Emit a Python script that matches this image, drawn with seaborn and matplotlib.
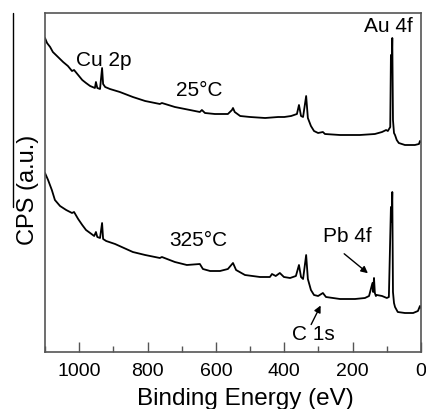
import numpy as np
import pandas as pd
import matplotlib
matplotlib.use("Agg")
import matplotlib.pyplot as plt
from matplotlib.lines import Line2D
from matplotlib.ticker import MultipleLocator
import seaborn as sns

# XPS survey spectra (binding energy in eV, intensity in a.u.)
be_25 = [1100, 1094, 1085, 1077, 1062, 1047, 1033, 1021, 1015, 1003, 991, 980, 968,
         954, 951, 947, 939, 933, 930, 924, 910, 881, 843, 807, 764, 758, 720, 676,
         647, 641, 632, 603, 565, 553, 550, 545, 529, 500, 456, 418, 400, 380, 363,
         357, 351, 345, 336, 331, 322, 313, 301, 287, 281, 237, 179, 135, 114, 102,
         97, 90, 88, 86, 84, 82, 79, 76, 71, 65, 47, 18, 6, 3, 0]
cps_25 = [314, 309, 305, 300, 295, 290, 286, 281, 282, 277, 272, 269, 266,
          264, 270, 264, 263, 284, 268, 265, 263, 260, 255, 251, 248, 249, 245, 242,
          240, 242, 239, 238, 238, 242, 244, 240, 236, 235, 234, 235, 235, 236, 238,
          247, 236, 235, 256, 234, 226, 221, 219, 220, 218, 217, 217, 218, 220, 222,
          221, 225, 297, 280, 314, 232, 219, 217, 212, 209, 207, 207, 208, 211, 210]

be_325 = [1100, 1091, 1080, 1071, 1056, 1038, 1021, 1015, 1003, 991, 980, 968, 956,
          951, 947, 939, 933, 930, 921, 895, 843, 807, 764, 758, 720, 685, 647, 638,
          617, 588, 565, 550, 541, 515, 471, 442, 436, 425, 413, 401, 383, 366, 357,
          351, 345, 336, 331, 322, 313, 301, 287, 278, 237, 193, 164, 152, 142, 140,
          137.5, 135, 132, 129, 114, 100, 94, 88, 86, 84, 82, 79, 76, 68, 47, 23, 9,
          3, 0]
cps_325 = [179, 172, 162, 152, 146, 142, 139, 140, 133, 127, 122, 119, 116,
           120, 115, 114, 129, 113, 111, 108, 100, 97, 94, 95, 90, 87, 88, 83,
           81, 81, 83, 89, 82, 77, 75, 75, 78, 76, 79, 75, 74, 76, 87,
           75, 73, 97, 73, 62, 57, 56, 59, 55, 53, 53, 54, 56, 69, 60,
           74, 59, 56, 57, 56, 54, 55, 145, 130, 160, 60, 49, 45, 40, 39, 39, 41,
           46, 44]

spectra = pd.concat([
    pd.DataFrame({"be": be_25, "cps": cps_25, "temp": "25C"}),
    pd.DataFrame({"be": be_325, "cps": cps_325, "temp": "325C"}),
])

sns.set_style("ticks")
plt.rcParams["font.family"] = ["Liberation Sans", "DejaVu Sans"]
plt.rcParams["text.color"] = "black"
plt.rcParams["axes.labelcolor"] = "black"
plt.rcParams["xtick.labelcolor"] = "black"

fig = plt.figure(figsize=(4.26, 4.09), dpi=100)
ax = fig.add_axes([45 / 426, 1 - 352 / 409, 376 / 426, 339 / 409])

sns.lineplot(data=spectra, x="be", y="cps", units="temp", estimator=None,
             color="black", lw=1.3, ax=ax)

ax.set_xlim(1100, 0)
ax.set_ylim(0, 339)
ax.xaxis.set_major_locator(MultipleLocator(200))
ax.xaxis.set_minor_locator(MultipleLocator(100))
ax.tick_params(axis="x", which="major", direction="in", length=7, width=1,
               color="#555555", labelsize=14, pad=8)
ax.tick_params(axis="x", which="minor", direction="in", length=4, width=1,
               color="#555555")
ax.set_yticks([])
for sp in ax.spines.values():
    sp.set_color("#555555")
    sp.set_linewidth(1.2)

ax.set_xlabel("Binding Energy (eV)", fontsize=17.5)
ax.xaxis.set_label_coords(0.532, -0.107)
ax.set_ylabel("CPS (a.u.)", fontsize=17)
ax.yaxis.set_label_coords(-0.017, 0.478)

ax.text(927, 292, "Cu 2p", fontsize=15, ha="center", va="center")
ax.text(649, 261, "25°C", fontsize=15, ha="center", va="center")
ax.text(96, 326, "Au 4f", fontsize=15, ha="center", va="center")
ax.text(652, 112, "325°C", fontsize=15, ha="center", va="center")
ax.text(216, 115, "Pb 4f", fontsize=15, ha="center", va="center")
ax.text(316, 18, "C 1s", fontsize=15, ha="center", va="center")

arrow = dict(arrowstyle="-|>", color="black", lw=1, mutation_scale=10)
ax.annotate("", xy=(149, 77), xytext=(231, 100), arrowprops=arrow)
ax.annotate("", xy=(290, 49), xytext=(325, 25), arrowprops=arrow)

# thin border line left over at the left edge of the original image
fig.add_artist(Line2D([13 / 426, 13 / 426], [1 - 13 / 409, 1 - 207 / 409],
                      color="black", lw=1))

fig.savefig("out.png", dpi=100)
